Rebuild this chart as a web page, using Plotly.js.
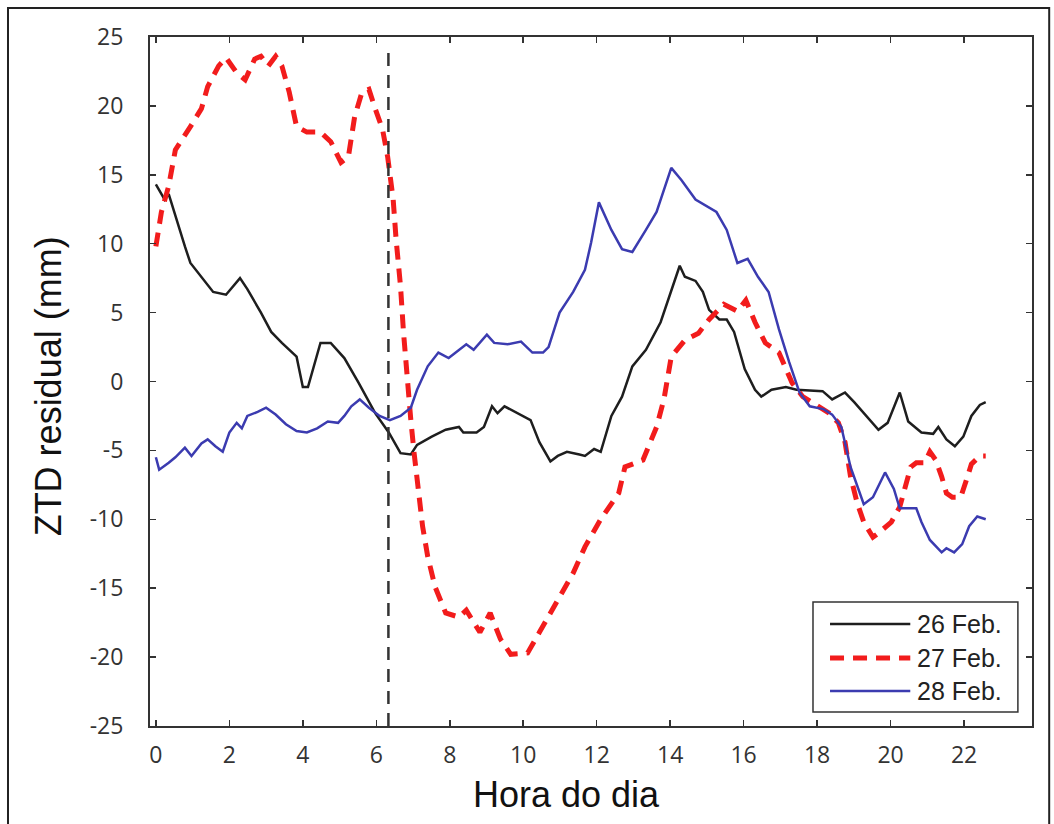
<!DOCTYPE html>
<html>
<head>
<meta charset="utf-8">
<script src="https://cdn.plot.ly/plotly-3.0.1.min.js"></script>
<style>html,body{margin:0;padding:0;background:#fff;}#chart{width:1054px;height:824px;}</style>
</head>
<body>
<div id="chart"></div>
<script>
// ---- Data (hours of day, ZTD residual in mm) ----
const seriesNames = ["26 Feb.", "27 Feb.", "28 Feb."];

const feb26_x = [0, 0.24, 0.35, 0.53, 0.79, 0.94, 1.24, 1.56, 1.91, 2.29, 2.49, 2.86, 3.14, 3.43, 3.83, 4.0, 4.14, 4.48, 4.76, 5.13, 5.52, 5.97, 6.34, 6.66, 6.94, 7.11, 7.51, 7.89, 8.25, 8.37, 8.73, 8.93, 9.15, 9.30, 9.49, 9.86, 10.20, 10.44, 10.74, 10.94, 11.19, 11.53, 11.68, 11.93, 12.11, 12.40, 12.69, 12.97, 13.34, 13.74, 14.03, 14.26, 14.4, 14.69, 14.89, 15.06, 15.34, 15.54, 15.74, 16.03, 16.31, 16.48, 16.76, 17.15, 17.44, 18.15, 18.41, 18.76, 19.01, 19.34, 19.67, 19.92, 20.25, 20.48, 20.84, 21.16, 21.3, 21.52, 21.75, 21.98, 22.2, 22.43, 22.59];
const feb26_y = [14.3, 13.2, 13.6, 12.0, 9.8, 8.6, 7.6, 6.5, 6.3, 7.5, 6.7, 5.0, 3.6, 2.8, 1.8, -0.4, -0.4, 2.8, 2.8, 1.7, -0.1, -2.3, -3.7, -5.2, -5.3, -4.6, -4.0, -3.5, -3.3, -3.7, -3.7, -3.3, -1.8, -2.3, -1.8, -2.3, -2.8, -4.4, -5.8, -5.4, -5.1, -5.3, -5.4, -4.9, -5.1, -2.5, -1.1, 1.1, 2.3, 4.3, 6.5, 8.4, 7.6, 7.3, 6.5, 5.2, 4.5, 4.5, 3.6, 0.9, -0.6, -1.1, -0.6, -0.4, -0.6, -0.7, -1.3, -0.8, -1.5, -2.5, -3.5, -3.0, -0.8, -2.9, -3.7, -3.8, -3.3, -4.2, -4.7, -4.0, -2.5, -1.7, -1.5];

const feb27_x = [0, 0.15, 0.35, 0.53, 0.94, 1.24, 1.41, 1.71, 1.91, 2.2, 2.43, 2.69, 2.86, 3.06, 3.26, 3.43, 3.63, 3.83, 4.11, 4.48, 4.76, 5.04, 5.24, 5.41, 5.61, 5.8, 5.97, 6.17, 6.31, 6.46, 6.54, 6.66, 6.74, 6.83, 6.94, 7.03, 7.11, 7.26, 7.4, 7.6, 7.89, 8.25, 8.45, 8.82, 9.1, 9.38, 9.66, 10.12, 10.44, 10.94, 11.36, 11.68, 12.11, 12.6, 12.77, 13.26, 13.63, 13.83, 14.03, 14.4, 14.77, 15.06, 15.46, 15.83, 16.06, 16.31, 16.59, 16.96, 17.15, 17.32, 17.61, 18.0, 18.33, 18.58, 18.76, 18.91, 19.09, 19.27, 19.52, 19.67, 20.02, 20.25, 20.39, 20.55, 20.7, 20.93, 21.07, 21.23, 21.39, 21.52, 21.68, 21.91, 22.07, 22.2, 22.43, 22.59];
const feb27_y = [9.8, 12.3, 14.2, 16.8, 18.5, 19.8, 21.4, 22.9, 23.5, 22.4, 21.9, 23.4, 23.6, 22.9, 23.6, 22.9, 21.0, 18.5, 18.1, 18.1, 17.4, 15.9, 16.3, 19.2, 21.0, 21.2, 19.8, 18.3, 16.3, 13.2, 10.3, 6.9, 3.6, 0.4, -2.8, -5.2, -7.3, -10.5, -12.7, -14.9, -16.8, -17.1, -16.6, -18.2, -16.8, -18.7, -19.8, -19.7, -18.2, -15.8, -13.9, -12.0, -10.0, -8.1, -6.2, -5.7, -3.3, -1.3, 1.8, 3.0, 3.5, 4.5, 5.6, 5.1, 5.9, 4.3, 2.8, 2.1, 0.9, -0.1, -1.1, -1.8, -2.3, -3.0, -4.4, -6.9, -8.8, -10.2, -11.3, -11.0, -10.2, -9.1, -7.6, -6.2, -5.9, -5.9, -5.1, -5.7, -6.9, -8.1, -8.4, -8.4, -7.1, -6.0, -5.4, -5.4];

const feb28_x = [0, 0.09, 0.35, 0.53, 0.79, 0.97, 1.24, 1.41, 1.62, 1.82, 2.0, 2.2, 2.34, 2.49, 2.77, 3.0, 3.26, 3.54, 3.83, 4.11, 4.39, 4.68, 4.96, 5.13, 5.32, 5.55, 5.8, 6.09, 6.37, 6.66, 6.94, 7.11, 7.4, 7.69, 7.97, 8.25, 8.45, 8.65, 9.01, 9.21, 9.58, 9.94, 10.25, 10.54, 10.69, 10.99, 11.36, 11.68, 11.85, 12.06, 12.4, 12.69, 12.97, 13.34, 13.63, 14.03, 14.31, 14.69, 15.26, 15.54, 15.83, 16.11, 16.39, 16.68, 16.96, 17.24, 17.52, 17.8, 18.17, 18.41, 18.66, 18.91, 19.09, 19.27, 19.52, 19.85, 20.09, 20.25, 20.48, 20.7, 20.84, 21.07, 21.39, 21.52, 21.73, 21.95, 22.14, 22.36, 22.59];
const feb28_y = [-5.5, -6.4, -5.9, -5.5, -4.8, -5.4, -4.5, -4.2, -4.7, -5.1, -3.7, -3.0, -3.4, -2.5, -2.2, -1.9, -2.4, -3.1, -3.6, -3.7, -3.4, -2.9, -3.0, -2.5, -1.8, -1.3, -1.9, -2.5, -2.8, -2.5, -1.9, -0.6, 1.1, 2.1, 1.7, 2.3, 2.7, 2.3, 3.4, 2.8, 2.7, 2.9, 2.1, 2.1, 2.5, 5.0, 6.5, 8.1, 10.1, 13.0, 11.0, 9.6, 9.4, 11.0, 12.3, 15.5, 14.6, 13.2, 12.3, 11.0, 8.6, 8.9, 7.6, 6.5, 3.8, 1.4, -0.8, -1.8, -2.0, -2.4, -3.3, -6.2, -7.6, -8.9, -8.4, -6.6, -7.8, -9.2, -9.2, -9.2, -10.2, -11.5, -12.4, -12.1, -12.4, -11.8, -10.5, -9.8, -10.0];

const markerHour = 6.33;              // vertical dashed reference line
const xTickVals = [0, 2, 4, 6, 8, 10, 12, 14, 16, 18, 20, 22];
const yTickVals = [-25, -20, -15, -10, -5, 0, 5, 10, 15, 20, 25];
const xTickText = xTickVals.map(String);
const yTickText = yTickVals.map(String);   // plain hyphen-minus as in the original

// ---- Styles ----
const colors = ["#1e1e1e", "#f21c1c", "#3b3bb0"];
const widths = [2.5, 5, 2.5];
const dashes = ["solid", "14px,9px", "solid"];

const traces = [
  {x: feb26_x, y: feb26_y},
  {x: feb27_x, y: feb27_y},
  {x: feb28_x, y: feb28_y}
].map((d, i) => ({
  type: "scatter", mode: "lines", name: seriesNames[i],
  x: d.x, y: d.y, showlegend: false,
  line: {color: colors[i], width: widths[i], dash: dashes[i]}
}));

// Manual legend (to get the long line samples of the original)
const legRowsY = [0.148, 0.0987, 0.0508];
const shapes = [
  // outer frame of the figure
  {type: "rect", xref: "paper", yref: "paper", x0: -0.161, x1: 1.0195, y0: -0.16, y1: 1.042,
   line: {color: "#222", width: 2}, fillcolor: "rgba(0,0,0,0)", layer: "below"},
  // vertical dashed line
  {type: "line", xref: "x", yref: "paper", x0: markerHour, x1: markerHour, y0: 0, y1: 0.985,
   line: {color: "#333", width: 2.5, dash: "13px,9px"}},
  // legend box
  {type: "rect", xref: "paper", yref: "paper", x0: 0.7517, x1: 0.984, y0: 0.0203, y1: 0.18,
   line: {color: "#333", width: 1.5}, fillcolor: "#fff"}
];
const annotations = [];
seriesNames.forEach((n, i) => {
  shapes.push({type: "line", xref: "paper", yref: "paper", x0: 0.771, x1: 0.862,
    y0: legRowsY[i], y1: legRowsY[i], line: {color: colors[i], width: widths[i], dash: dashes[i]}});
  annotations.push({xref: "paper", yref: "paper", x: 0.867, y: legRowsY[i], text: n,
    showarrow: false, xanchor: "left", yanchor: "middle",
    font: {family: "Liberation Sans, Arial, sans-serif", size: 25, color: "#222"}});
});
annotations.push({xref: "paper", yref: "paper", x: 0.4717, y: -0.1, text: "Hora do dia",
  showarrow: false, xanchor: "center", yanchor: "middle",
  font: {family: "Liberation Sans, Arial, sans-serif", size: 36, color: "#111"}});
annotations.push({xref: "paper", yref: "paper", x: -0.1156, y: 0.493, text: "ZTD residual (mm)",
  textangle: -90, showarrow: false, xanchor: "center", yanchor: "middle",
  font: {family: "Liberation Sans, Arial, sans-serif", size: 36, color: "#111"}});

const axisCommon = {
  showgrid: false, zeroline: false, showline: true, linecolor: "#333", linewidth: 2,
  mirror: "ticks", ticks: "inside", ticklen: 6, tickwidth: 1.5, tickcolor: "#333",
  tickmode: "array",
  tickfont: {family: "Open Sans, sans-serif", size: 23, color: "#333"}
};

const layout = {
  width: 1054, height: 824,
  margin: {l: 150, r: 22, t: 37, b: 98, pad: 0},
  paper_bgcolor: "#fff", plot_bgcolor: "#fff",
  xaxis: Object.assign({}, axisCommon, {range: [-0.16, 23.85], tickvals: xTickVals, ticktext: xTickText, ticklabelstandoff: 7}),
  yaxis: Object.assign({}, axisCommon, {range: [-25, 25], tickvals: yTickVals, ticktext: yTickText, ticklabelstandoff: 20}),
  shapes: shapes, annotations: annotations, showlegend: false
};

Plotly.newPlot("chart", traces, layout, {displayModeBar: false, staticPlot: true});
</script>
</body>
</html>
